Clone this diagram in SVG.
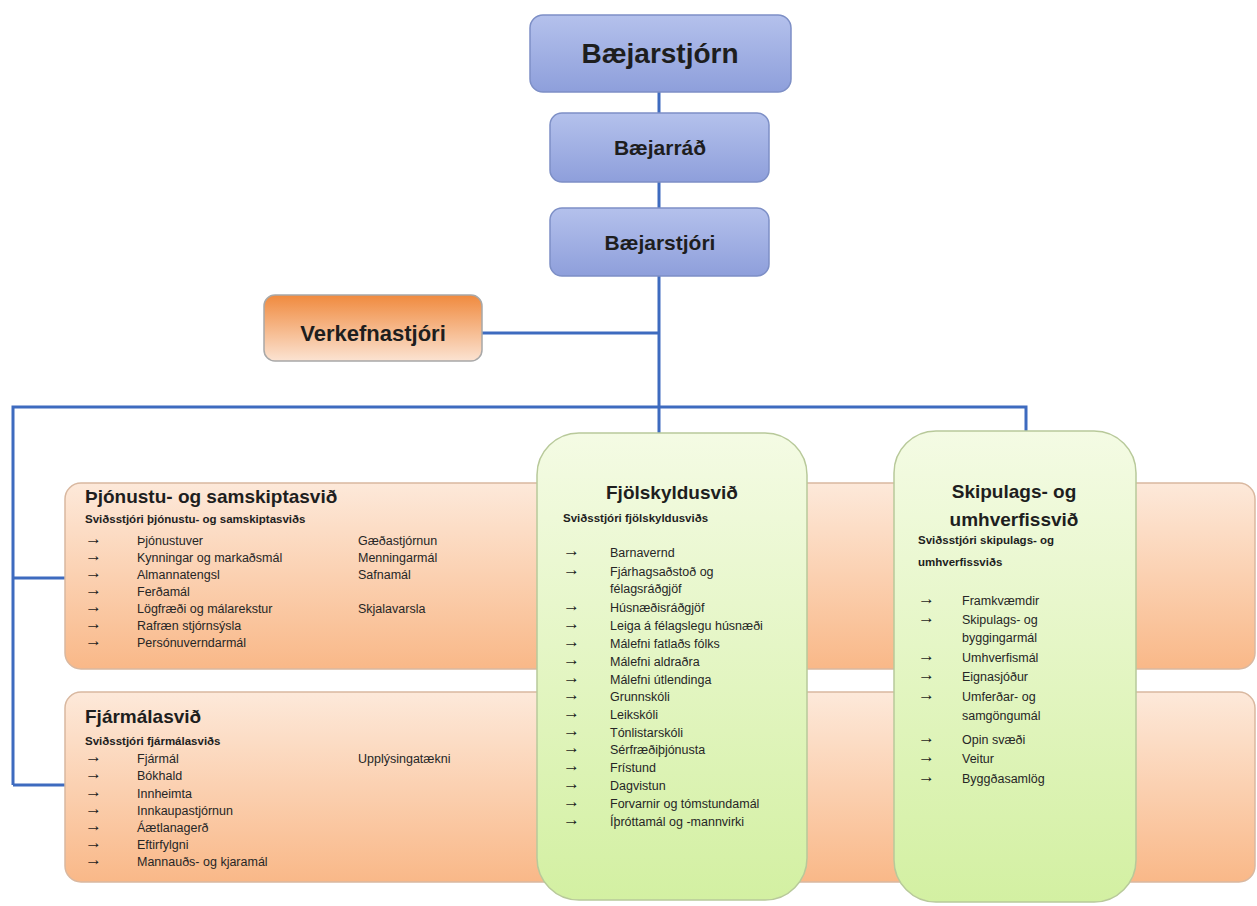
<svg xmlns="http://www.w3.org/2000/svg" width="1257" height="906" viewBox="0 0 1257 906">
<style>
.blue{stroke:#7d8fc6;stroke-width:1.5}
.orng{stroke:#d9b8a0;stroke-width:1.5}
.grn{stroke:#b8c99a;stroke-width:1.5}
.con{fill:none;stroke:#3e6bbf;stroke-width:3}
text{font-family:"Liberation Sans",Arial,sans-serif;fill:#1e1e1e}
.h{font-weight:bold}
.t{font-size:19px;font-weight:bold}
.s{font-size:11.5px;font-weight:bold}
.i{font-size:12.5px;fill:#262626}
.a{font-family:"DejaVu Sans",sans-serif;font-size:17px;fill:#262626}
</style>
<defs>
<linearGradient id="gb" x1="0" y1="0" x2="0" y2="1"><stop offset="0" stop-color="#b4c1ec"/><stop offset="1" stop-color="#8e9fdb"/></linearGradient>
<linearGradient id="go" x1="0" y1="0" x2="0" y2="1"><stop offset="0" stop-color="#fde9da"/><stop offset="1" stop-color="#f9b888"/></linearGradient>
<linearGradient id="gv" x1="0" y1="0" x2="0" y2="1"><stop offset="0" stop-color="#f08a3e"/><stop offset="1" stop-color="#fbe3d2"/></linearGradient>
<linearGradient id="gg" x1="0" y1="0" x2="0" y2="1"><stop offset="0" stop-color="#f4fbe4"/><stop offset="1" stop-color="#d3f0a2"/></linearGradient>
</defs>

<g id="connectors">
<path class="con" d="M659 92V113M659 182V208M659 276V433"/>
<path class="con" d="M482 333H659"/>
<path class="con" d="M13 785V407H1026V431"/>
<path class="con" d="M13 578H66M13 785H66"/>
</g>

<g id="baejarstjorn">
<rect class="blue" x="530" y="15" width="261" height="77" rx="13" fill="url(#gb)"/>
<text class="h" x="660" y="63" font-size="28" text-anchor="middle">Bæjarstjórn</text>
</g>
<g id="baejarrad">
<rect class="blue" x="550" y="113" width="219" height="69" rx="12" fill="url(#gb)"/>
<text class="h" x="660" y="155" font-size="21" text-anchor="middle">Bæjarráð</text>
</g>
<g id="baejarstjori">
<rect class="blue" x="550" y="208" width="219" height="68" rx="12" fill="url(#gb)"/>
<text class="h" x="660" y="250" font-size="21" text-anchor="middle">Bæjarstjóri</text>
</g>
<g id="verkefnastjori">
<rect x="264" y="295" width="218" height="66" rx="11" fill="url(#gv)" stroke="#a8a8a8" stroke-width="1.5"/>
<text class="h" x="373" y="341" font-size="22" text-anchor="middle">Verkefnastjóri</text>
</g>

<g id="thjonustu">
<rect class="orng" x="65" y="483" width="1190" height="186" rx="16" fill="url(#go)"/>
<text class="t" x="85" y="503">Þjónustu- og samskiptasvið</text>
<text class="s" x="85" y="523">Sviðsstjóri þjónustu- og samskiptasviðs</text>
<g class="a"><text x="85" y="544">→</text><text x="85" y="561">→</text><text x="85" y="578">→</text><text x="85" y="595">→</text><text x="85" y="612">→</text><text x="85" y="629">→</text><text x="85" y="646">→</text></g>
<text class="i" x="137" y="545">Þjónustuver</text>
<text class="i" x="137" y="562">Kynningar og markaðsmál</text>
<text class="i" x="137" y="579">Almannatengsl</text>
<text class="i" x="137" y="596">Ferðamál</text>
<text class="i" x="137" y="613">Lögfræði og málarekstur</text>
<text class="i" x="137" y="630">Rafræn stjórnsýsla</text>
<text class="i" x="137" y="647">Persónuverndarmál</text>
<text class="i" x="358" y="545">Gæðastjórnun</text>
<text class="i" x="358" y="562">Menningarmál</text>
<text class="i" x="358" y="579">Safnamál</text>
<text class="i" x="358" y="613">Skjalavarsla</text>
</g>

<g id="fjarmalasvid">
<rect class="orng" x="65" y="692" width="1190" height="190" rx="16" fill="url(#go)"/>
<text class="t" x="85" y="723">Fjármálasvið</text>
<text class="s" x="85" y="745">Sviðsstjóri fjármálasviðs</text>
<g class="a"><text x="85" y="762">→</text><text x="85" y="779">→</text><text x="85" y="797">→</text><text x="85" y="814">→</text><text x="85" y="831">→</text><text x="85" y="848">→</text><text x="85" y="865">→</text></g>
<text class="i" x="137" y="763">Fjármál</text>
<text class="i" x="137" y="780">Bókhald</text>
<text class="i" x="137" y="798">Innheimta</text>
<text class="i" x="137" y="815">Innkaupastjórnun</text>
<text class="i" x="137" y="832">Áætlanagerð</text>
<text class="i" x="137" y="849">Eftirfylgni</text>
<text class="i" x="137" y="866">Mannauðs- og kjaramál</text>
<text class="i" x="358" y="763">Upplýsingatækni</text>
</g>

<g id="fjolskyldusvid">
<rect class="grn" x="537" y="433" width="270" height="467" rx="42" fill="url(#gg)"/>
<text class="t" x="672" y="499" text-anchor="middle">Fjölskyldusvið</text>
<text class="s" x="563" y="522">Sviðsstjóri fjölskyldusviðs</text>
<g class="a"><text x="563" y="556">→</text><text x="563" y="575">→</text><text x="563" y="611">→</text><text x="563" y="629">→</text><text x="563" y="647">→</text><text x="563" y="665">→</text><text x="563" y="683">→</text><text x="563" y="700">→</text><text x="563" y="718">→</text><text x="563" y="736">→</text><text x="563" y="753">→</text><text x="563" y="771">→</text><text x="563" y="789">→</text><text x="563" y="807">→</text><text x="563" y="825">→</text></g>
<text class="i" x="610" y="557">Barnavernd</text>
<text class="i" x="610" y="576">Fjárhagsaðstoð  og</text>
<text class="i" x="610" y="593">félagsráðgjöf</text>
<text class="i" x="610" y="612">Húsnæðisráðgjöf</text>
<text class="i" x="610" y="630">Leiga á félagslegu húsnæði</text>
<text class="i" x="610" y="648">Málefni fatlaðs fólks</text>
<text class="i" x="610" y="666">Málefni  aldraðra</text>
<text class="i" x="610" y="684">Málefni útlendinga</text>
<text class="i" x="610" y="701">Grunnskóli</text>
<text class="i" x="610" y="719">Leikskóli</text>
<text class="i" x="610" y="737">Tónlistarskóli</text>
<text class="i" x="610" y="754">Sérfræðiþjónusta</text>
<text class="i" x="610" y="772">Frístund</text>
<text class="i" x="610" y="790">Dagvistun</text>
<text class="i" x="610" y="808">Forvarnir og tómstundamál</text>
<text class="i" x="610" y="826">Íþróttamál og -mannvirki</text>
</g>

<g id="skipulagssvid">
<rect class="grn" x="894" y="431" width="242" height="471" rx="42" fill="url(#gg)"/>
<text class="t" x="1014" y="498" text-anchor="middle">Skipulags- og</text>
<text class="t" x="1014" y="526" text-anchor="middle">umhverfissvið</text>
<text class="s" x="918" y="544">Sviðsstjóri skipulags- og</text>
<text class="s" x="918" y="566">umhverfissviðs</text>
<g class="a"><text x="918" y="604">→</text><text x="918" y="623">→</text><text x="918" y="661">→</text><text x="918" y="680">→</text><text x="918" y="700">→</text><text x="918" y="743">→</text><text x="918" y="762">→</text><text x="918" y="782">→</text></g>
<text class="i" x="962" y="605">Framkvæmdir</text>
<text class="i" x="962" y="624">Skipulags- og</text>
<text class="i" x="962" y="642">byggingarmál</text>
<text class="i" x="962" y="662">Umhverfismál</text>
<text class="i" x="962" y="681">Eignasjóður</text>
<text class="i" x="962" y="701">Umferðar- og</text>
<text class="i" x="962" y="720">samgöngumál</text>
<text class="i" x="962" y="744">Opin svæði</text>
<text class="i" x="962" y="763">Veitur</text>
<text class="i" x="962" y="783">Byggðasamlög</text>
</g>
</svg>
